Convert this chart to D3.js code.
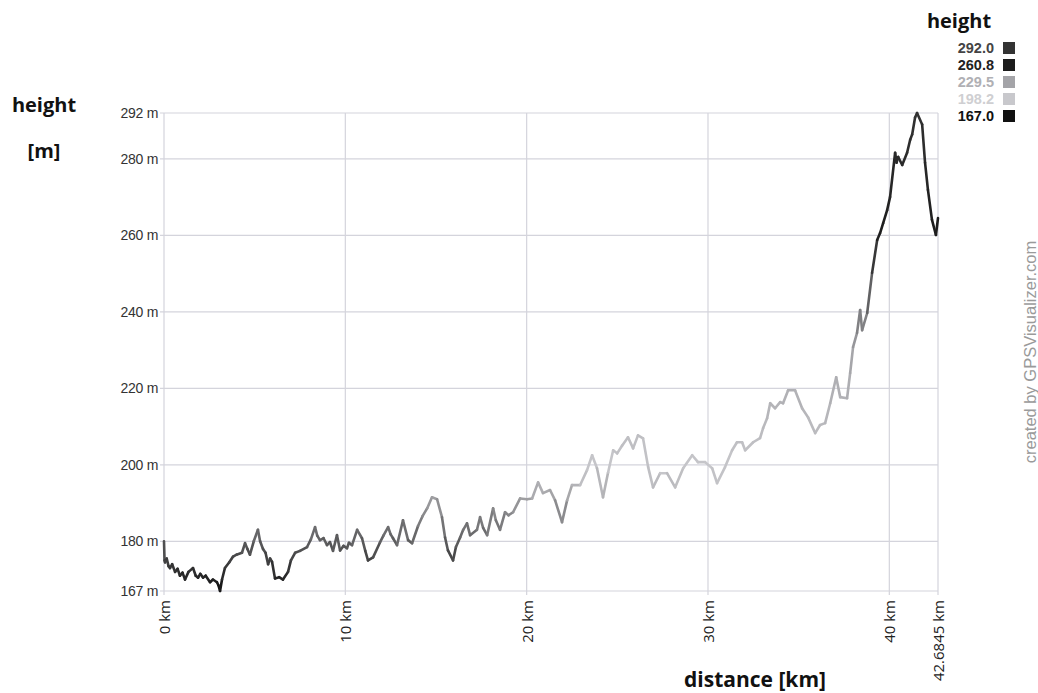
<!DOCTYPE html>
<html><head><meta charset="utf-8">
<script src="https://cdn.jsdelivr.net/npm/d3@7"></script>
<style>body{margin:0;background:#fff;}svg{display:block;}</style>
</head><body>
<svg id="c" width="1038" height="693"></svg>
<script>
const distKm = [0,0.03,0.06,0.15,0.25,0.33,0.45,0.61,0.75,0.88,1.02,1.16,1.35,1.60,1.75,1.88,2.0,2.15,2.3,2.54,2.7,2.92,3.0,3.09,3.2,3.36,3.6,3.81,4.0,4.30,4.47,4.6,4.74,4.95,5.18,5.3,5.46,5.6,5.74,5.85,5.96,6.12,6.35,6.56,6.84,7.0,7.23,7.5,7.89,8.1,8.33,8.45,8.60,8.8,8.99,9.15,9.32,9.54,9.71,9.9,10.09,10.2,10.37,10.65,10.92,11.1,11.25,11.53,11.91,12.1,12.36,12.5,12.63,12.85,13.18,13.46,13.68,14.01,14.25,14.51,14.78,15.06,15.33,15.5,15.66,15.94,16.1,16.33,16.5,16.71,16.88,17.26,17.43,17.6,17.82,18.15,18.3,18.53,18.81,19.0,19.25,19.64,20.02,20.30,20.63,20.90,21.29,21.57,21.95,22.23,22.50,22.95,23.33,23.61,23.88,24.21,24.49,24.77,24.99,25.26,25.59,25.87,26.14,26.42,26.70,26.97,27.36,27.74,28.19,28.63,29.13,29.45,29.84,30.23,30.50,30.94,31.33,31.60,31.88,32.05,32.49,32.87,33.04,33.26,33.43,33.70,33.98,34.14,34.42,34.80,35.19,35.52,35.91,36.18,36.46,36.74,37.07,37.29,37.67,37.84,38.00,38.22,38.39,38.50,38.78,39.05,39.33,39.49,39.66,39.88,40.04,40.32,40.40,40.49,40.71,40.98,41.15,41.26,41.42,41.53,41.81,41.97,42.13,42.35,42.57,42.6845];
const heightM = [180,175,174.5,175.5,173.5,173,174,172,172.8,171,171.8,170,172,173,171,170.5,171.5,170.5,171,169.3,170,169.3,168.5,167,170,173,174.5,176,176.5,177,179.5,178,176.5,180,183,180,178,177,174,175.5,174.6,170.3,170.6,170,172,175,177,177.5,178.5,180.5,183.7,181.5,180.3,180.8,179,179.8,177.5,181.6,177.6,178.8,178.2,179.6,179,183,180.8,177.5,175,175.8,179.7,181.5,183.7,181.8,180.8,179,185.5,180.3,179.5,184,186.5,188.6,191.5,191,186.3,181,177.6,175,178.5,181,183,184.7,181.6,183,186.3,183.5,181.6,188.6,185.5,183,187.6,186.8,187.6,191.2,191,191.2,195.4,192.6,193.4,190.7,185,190.7,194.7,194.7,198.6,202.5,199.1,191.5,198,203.8,203,205,207.2,204.3,207.7,206.9,199.4,194.1,197.8,197.8,194.1,199.1,202.5,200.7,200.7,199.1,195.2,199.4,203.8,205.9,205.9,203.8,205.9,207,209.6,212.2,216.1,214.8,216.4,216.1,219.5,219.5,214.8,212.4,208.3,210.4,210.9,216.1,222.9,217.7,217.4,224,230.8,234.5,240.5,235.2,239.7,250.2,258.8,260.6,263.2,266.6,270,281.6,279,280.5,278.4,281.6,285,286.4,290.8,292,289,279,271.9,264.1,260.1,264.5,265];
const yTicks = [167,180,200,220,240,260,280,292];
const xTicks = [0,10,20,30,40,42.6845];
const xTickLabels = ["0 km","10 km","20 km","30 km","40 km","42.6845 km"];
const legendValues = ["292.0","260.8","229.5","198.2","167.0"];
const legendColors = ["#333333","#1c1c1c","#a4a4a8","#c8c8cc","#111111"];
const legendTextColors = ["#444444","#222222","#b0b0b4","#cfcfd2","#111111"];
const colorStops = [167,198.2,229.5,260.8,292];
const colorStopColors = ["#111111","#c8c8cc","#a4a4a8","#1c1c1c","#333333"];

const svg = d3.select("#c");
const L=164, R=938, T=113, B=591;
const x = d3.scaleLinear().domain([0,42.6845]).range([L,R]);
const y = d3.scaleLinear().domain([167,292]).range([B,T]);
const col = d3.scaleLinear().domain(colorStops).range(colorStopColors);
const grid = "#d4d4dc";

// grid
svg.append("g").selectAll("line").data(yTicks).join("line")
  .attr("x1",L-4).attr("x2",R).attr("y1",d=>y(d)).attr("y2",d=>y(d))
  .attr("stroke",grid).attr("stroke-width",1.2);
svg.append("g").selectAll("line").data(xTicks).join("line")
  .attr("x1",d=>x(d)).attr("x2",d=>x(d)).attr("y1",T).attr("y2",B+4)
  .attr("stroke",grid).attr("stroke-width",1.2);

// y labels
svg.append("g").selectAll("text").data(yTicks).join("text")
  .attr("x",L-6).attr("y",d=>y(d)+5).attr("text-anchor","end")
  .attr("font-family","Liberation Sans, Arial, sans-serif").attr("font-size",14)
  .attr("letter-spacing","-0.3").attr("fill","#333").text(d=>d+" m");

// x labels
svg.append("g").selectAll("text").data(xTicks).join("text")
  .attr("transform",d=>`translate(${x(d)+6},${B+9}) rotate(-90)`)
  .attr("text-anchor","end")
  .attr("font-family","Open Sans, sans-serif").attr("font-size",15)
  .attr("fill","#222").text((d,i)=>xTickLabels[i]);

// line segments coloured by height
const pts = distKm.map((d,i)=>[d,heightM[i]]);
const segs = d3.pairs(pts);
svg.append("g").selectAll("line").data(segs).join("line")
  .attr("x1",d=>x(d[0][0])).attr("y1",d=>y(d[0][1]))
  .attr("x2",d=>x(d[1][0])).attr("y2",d=>y(d[1][1]))
  .attr("stroke",d=>col((d[0][1]+d[1][1])/2))
  .attr("stroke-width",2.6).attr("stroke-linecap","round");

// titles
const tf = "Open Sans, Lato, sans-serif";
svg.append("text").attr("x",44).attr("y",112).attr("text-anchor","middle")
  .attr("font-family",tf).attr("font-weight","bold").attr("font-size",20).attr("fill","#111").text("height");
svg.append("text").attr("x",44).attr("y",158).attr("text-anchor","middle")
  .attr("font-family",tf).attr("font-weight","bold").attr("font-size",20).attr("fill","#111").text("[m]");
svg.append("text").attr("x",755).attr("y",687).attr("text-anchor","middle")
  .attr("font-family",tf).attr("font-weight","bold").attr("font-size",21).attr("fill","#111").text("distance [km]");

// legend
svg.append("text").attr("x",959).attr("y",28).attr("text-anchor","middle")
  .attr("font-family",tf).attr("font-weight","bold").attr("font-size",20).attr("fill","#111").text("height");
const lg = svg.append("g");
lg.selectAll("rect").data(legendValues).join("rect")
  .attr("x",1003).attr("y",(d,i)=>42+i*17).attr("width",12).attr("height",12)
  .attr("fill",(d,i)=>legendColors[i]);
lg.selectAll("text").data(legendValues).join("text")
  .attr("x",994).attr("y",(d,i)=>53+i*17).attr("text-anchor","end")
  .attr("font-family","Liberation Sans, Arial, sans-serif").attr("font-weight","bold").attr("font-size",14.5)
  .attr("fill",(d,i)=>legendTextColors[i]).text(d=>d);

// credit
svg.append("text").attr("transform","translate(1036,352) rotate(-90)")
  .attr("text-anchor","middle").attr("font-family","Liberation Sans, Arial, sans-serif")
  .attr("font-size",16.5).attr("fill","#9a9a9a").text("created by GPSVisualizer.com");
</script>
</body></html>
